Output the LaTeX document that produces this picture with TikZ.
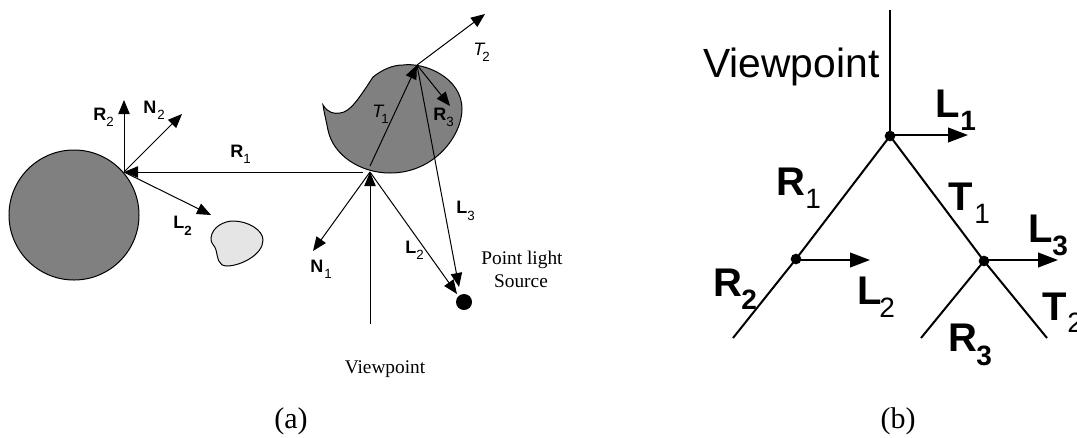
\documentclass[tikz,border=0pt]{standalone}
\usepackage{fontspec}
\setmainfont{Liberation Serif}
\newfontfamily\arialf{Liberation Sans}
\usetikzlibrary{arrows.meta}
\tikzset{
  ln/.style={draw=black,line width=0.75pt},
  arr/.style={ln,-{Triangle[length=10.5pt,width=8.5pt]}},
  tr/.style={draw=black,line width=1.5pt},
  trarr/.style={draw=black,line width=1.5pt,-{Triangle[length=15pt,width=11pt]}},
  dot/.style={circle,fill=black,inner sep=0pt,minimum size=8pt},
  txt/.style={inner sep=0pt,anchor=base west},
  sb/.style={txt,font=\arialf\bfseries\fontsize{13.5}{14}\selectfont},
  ss/.style={txt,font=\arialf\fontsize{10}{11}\selectfont},
  si/.style={txt,font=\arialf\itshape\fontsize{13.5}{14}\selectfont},
  sbs/.style={txt,font=\arialf\bfseries\fontsize{10}{11}\selectfont},
  bb/.style={txt,font=\arialf\bfseries\fontsize{30}{32}\selectfont},
  bs/.style={txt,font=\arialf\fontsize{21}{22}\selectfont},
  bbs/.style={txt,font=\arialf\bfseries\fontsize{21}{22}\selectfont},
  rm/.style={inner sep=0pt,anchor=base,font=\fontsize{14.5}{15}\selectfont},
  captxt/.style={inner sep=0pt,anchor=base,font=\fontsize{22.5}{24}\selectfont},
}
\begin{document}
\begin{tikzpicture}[x=0.75pt,y=-0.75pt]
\useasboundingbox (0,0) rectangle (1077,437);
% --- panel (a) shapes
\filldraw[fill=black!50,draw=black,line width=0.75pt] (74,215) circle (65);
\filldraw[fill=black!50,draw=black,line width=0.75pt]
  (323,105) .. controls (328,113) and (334,114) .. (340,113)
  .. controls (350,112) and (358,100) .. (373,77)
  .. controls (382,70) and (392,65) .. (403,65)
  .. controls (425,62) and (462,78) .. (462,109)
  .. controls (462,135) and (435,173) .. (390,173)
  .. controls (360,173) and (333,155) .. (328,130)
  .. controls (326,120) and (324,112) .. (323,105) -- cycle;
\filldraw[fill=black!10,draw=black,line width=0.75pt]
  (211,238) .. controls (212,227) and (224,221) .. (233,221)
  .. controls (248,221) and (263,230) .. (263,240)
  .. controls (263,255) and (240,266) .. (227,266)
  .. controls (218,266) and (218,258) .. (216,250)
  .. controls (215,245) and (211,245) .. (211,238) -- cycle;
\node[circle,fill=black,inner sep=0pt,minimum size=12pt] (light) at (464,302) {};
% --- panel (a) coordinates
\coordinate (A) at (124,172);
\coordinate (Ar2) at (124,100);
\coordinate (An2) at (182,114);
\coordinate (Al2) at (211,215);
\coordinate (B) at (370,172);
\coordinate (Br) at (363,172);
\coordinate (Bt) at (370,166);
\coordinate (Bn) at (313,251);
\coordinate (Bl) at (457,294);
\coordinate (V) at (370,324);
\coordinate (C) at (417,65);
\coordinate (Ct) at (485,14);
\coordinate (Cr) at (450,106);
\coordinate (Cl) at (459,287);
\draw[arr] (A) -- (Ar2);
\draw[arr] (A) -- (An2);
\draw[arr] (A) -- (Al2);
\draw[arr] (Br) -- (A);
\draw[arr] (Bt) -- (C);
\draw[arr] (B) -- (Bn);
\draw[arr] (B) -- (Bl);
\draw[arr] (V) -- (B);
\draw[arr] (C) -- (Ct);
\draw[arr] (C) -- (Cr);
\draw[arr] (C) -- (Cl);
% --- panel (a) labels
\node[sb] (a1) at (93,120) {R}; \node[ss] (a1s) at (106,126) {2};
\node[sb] (a2) at (143,113) {N}; \node[ss] (a2s) at (157,119) {2};
\node[sb] (a3) at (230,157) {R}; \node[ss] (a3s) at (243,163) {1};
\node[sb] (a4) at (173,228) {L}; \node[sbs] (a4s) at (184,235) {2};
\node[si] (a5) at (372,117) {T}; \node[ss] (a5s) at (381,123) {1};
\node[si] (a6) at (473,55) {T}; \node[ss] (a6s) at (482,61) {2};
\node[sb] (a7) at (433,120) {R}; \node[ss] (a7s) at (446,126) {3};
\node[sb] (a8) at (456,213) {L}; \node[ss] (a8s) at (467,220) {3};
\node[sb] (a9) at (405,253) {L}; \node[ss] (a9s) at (416,259) {2};
\node[sb] (a10) at (310,272) {N}; \node[ss] (a10s) at (324,278) {1};
\node[rm] (pl) at (522,264) {Point light};
\node[rm] (src) at (521,287) {Source};
\node[rm] (vp) at (385,373) {Viewpoint};
\node[captxt] (capa) at (291,428) {(a)};
% --- panel (b)
\coordinate (top) at (890,10);
\node[dot] (n1) at (890,136) {};
\node[dot] (n2) at (796,259) {};
\node[dot] (n3) at (984,261) {};
\coordinate (e2) at (733,338);
\coordinate (e3) at (921,338);
\coordinate (e4) at (1047,338);
\coordinate (l1) at (968,135);
\coordinate (l2) at (870,260);
\coordinate (l3) at (1058,260);
\draw[tr] (top) -- (n1.center);
\draw[tr] (n1.center) -- (n2.center) -- (e2);
\draw[tr] (n1.center) -- (n3.center) -- (e4);
\draw[tr] (n3.center) -- (e3);
\draw[trarr] (n1.center) ++(0,-1) -- (l1);
\draw[trarr] (n2.center) ++(0,1) -- (l2);
\draw[trarr] (n3.center) ++(0,-1) -- (l3);
\node[txt,font=\arialf\fontsize{30.6}{32}\selectfont] (vpb) at (703,77) {Viewpoint};
\node[bb] (b1) at (935,117) {L}; \node[bbs] (b1s) at (960,130) {1};
\node[bb] (b2) at (776,195) {R}; \node[bs] (b2s) at (805,208) {1};
\node[bb] (b3) at (948,210) {T}; \node[bs] (b3s) at (974,223) {1};
\node[bb] (b4) at (1028,242) {L}; \node[bbs] (b4s) at (1052,255) {3};
\node[bb] (b5) at (713,296) {R}; \node[bbs] (b5s) at (741,309) {2};
\node[bb] (b6) at (857,304) {L}; \node[bs] (b6s) at (879,317) {2};
\node[bb] (b7) at (1042,320) {T}; \node[bs] (b7s) at (1067,332) {2};
\node[bb] (b8) at (948,351) {R}; \node[bbs] (b8s) at (976,365) {3};
\node[captxt] (capb) at (898,428) {(b)};
\end{tikzpicture}
\end{document}
